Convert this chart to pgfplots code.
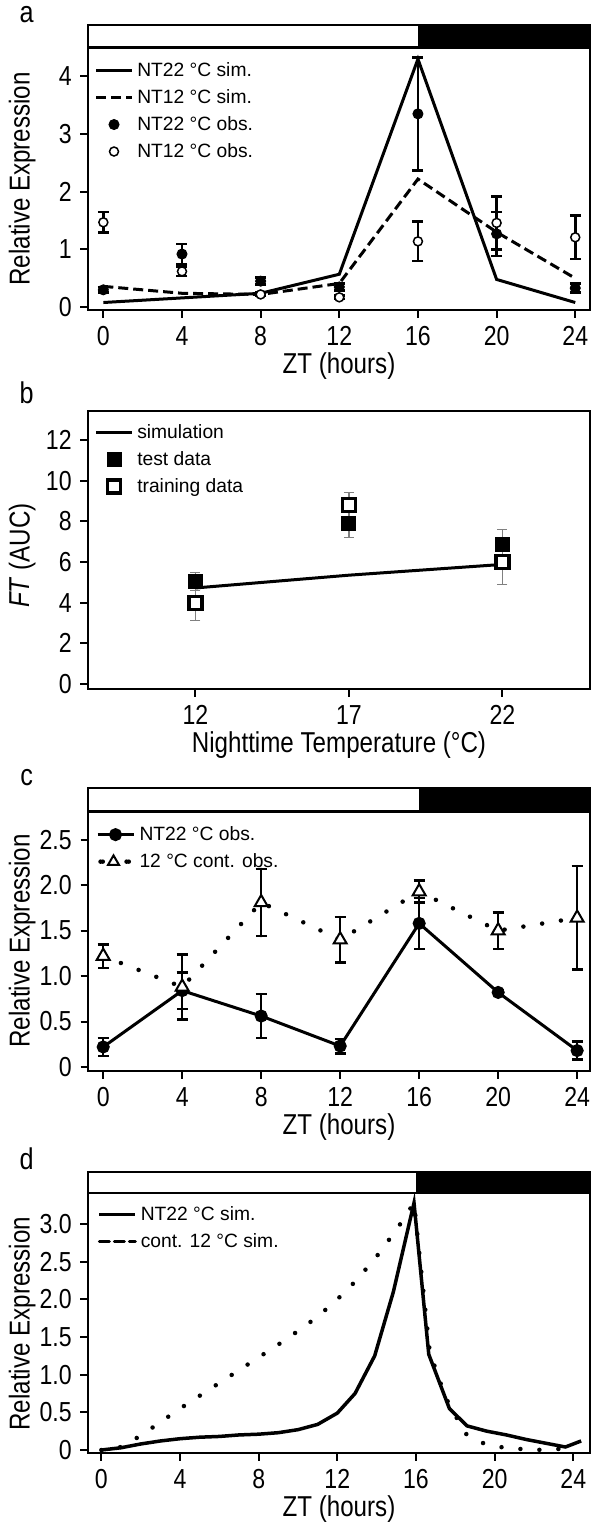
\documentclass[border=0pt]{standalone}
\usepackage{fontspec}
\setmainfont{Liberation Sans}
\newfontfamily\narrow{Liberation Sans}[FakeStretch=0.84]
\usepackage{pgfplots}
\pgfplotsset{compat=1.18}

\tikzset{
  dotline/.style={line width=1.8pt, line cap=round, dash pattern=on 0pt off 7.6pt},
  dashline/.style={line width=1.2pt, dash pattern=on 4pt off 2pt},
}
\pgfplotsset{
  panel/.style={
    scale only axis, width=200.8pt, anchor=north west,
    axis line style={line width=1pt},
    tick align=outside, xtick pos=bottom, ytick pos=left,
    major tick length=3pt,
    tick style={black, line width=0.8pt},
    /pgf/number format/assume math mode=true,
    tick label style={font=\narrow\fontsize{11}{13}\selectfont},
    label style={font=\narrow\fontsize{11.5}{13}\selectfont},
    xlabel style={yshift=4pt},
    legend cell align=left,
    legend style={draw=none, fill=none, inner sep=0pt,
      font=\fontsize{7.7}{9}\selectfont,
      nodes={inner sep=1pt, text height=6.8pt, text depth=2pt},
      /tikz/every odd column/.append style={column sep=0.5pt}},
    legend image code/.code={\draw[mark repeat=2,mark phase=2,##1]
      plot coordinates {(0pt,0pt) (7.2pt,0pt) (14.4pt,0pt)};},
  },
  ebar/.style={error bars/y dir=both, error bars/y explicit,
    error bars/error bar style={solid, line width=1pt},
    error bars/error mark options={solid, rotate=90, mark size=2.2pt, line width=1pt}},
}

\begin{document}
\begin{tikzpicture}
\useasboundingbox (0,0) rectangle (238.4pt,-608.8pt);

% ---------- a ----------
\begin{axis}[panel, name=axA, at={(35.2pt,-10pt)}, height=114pt,
  xmin=-0.78, xmax=24.75, ymin=-0.05, ymax=4.89,
  xtick={0,4,...,24}, ytick={0,1,2,3,4},
  xlabel={ZT (hours)}, ylabel={Relative Expression},
  ylabel style={at={(axis description cs:-0.131,0.46)}, anchor=center},
  legend style={at={(rel axis cs:0.012,0.921)}, anchor=north west, yshift=-3.6pt}]
\addplot[line width=1.2pt] coordinates {(0,0.08) (4,0.16) (8,0.24) (12,0.57) (16,4.3) (20,0.48) (24,0.08)};
\addlegendentry{NT22 °C sim.}
\addplot[dashline] coordinates {(0,0.36) (4,0.24) (8,0.22) (12,0.41) (16,2.22) (20,1.3) (24,0.5)};
\addlegendentry{NT12 °C sim.}
\addplot[only marks, mark=*, mark size=2pt, ebar] coordinates {
  (0,0.3) +- (0,0.05) (4,0.92) +- (0,0.17) (8,0.45) +- (0,0.06) (12,0.35) +- (0,0.06)
  (16,3.35) +- (0,0.98) (20,1.27) +- (0,0.38) (24,0.33) +- (0,0.08)};
\addlegendentry{NT22 °C obs.}
\addplot[only marks, mark=*, mark size=1.8pt, mark options={fill=white, line width=0.6pt}, ebar] coordinates {
  (0,1.47) +- (0,0.18) (4,0.62) +- (0,0.08) (8,0.22) +- (0,0.03) (12,0.17) +- (0,0.03)
  (16,1.14) +- (0,0.34) (20,1.46) +- (0,0.46) (24,1.21) +- (0,0.38)};
\addlegendentry{NT12 °C obs.}
\draw[line width=1pt] (rel axis cs:0,0.921) -- (rel axis cs:1,0.921);
\fill (axis cs:16,4.5) rectangle (rel axis cs:1,1);
\end{axis}
\node[font=\narrow\fontsize{12}{14}\selectfont, anchor=base] at ([xshift=-24.5pt,yshift=1pt]axA.north west) {a};

% ---------- b ----------
\begin{axis}[panel, name=axB, at={(35.2pt,-164.4pt)}, height=111.2pt,
  xmin=8.5, xmax=24.85, ymin=-0.26, ymax=13.44,
  xtick={12,17,22}, ytick={0,2,...,12},
  xlabel={Nighttime Temperature (°C)}, ylabel={\textit{FT} (AUC)},
  ylabel style={at={(axis description cs:-0.131,0.48)}, anchor=center},
  legend style={at={(rel axis cs:0.012,1)}, anchor=north west, yshift=-3pt},
  error bars/error bar style={gray, line width=0.5pt},
  error bars/error mark options={gray, rotate=90, mark size=2pt, line width=0.5pt}]
\addplot[line width=1.2pt] coordinates {(12,4.72) (17,5.35) (22,5.88)};
\addlegendentry{simulation}
\addplot[only marks, mark=square*, mark size=2.8pt, error bars/y dir=both, error bars/y explicit] coordinates {
  (12,5.05) +- (0,0.45) (17,7.9) +- (0,0.7) (22,6.85) +- (0,0.75)};
\addlegendentry{test data}
\addplot[only marks, mark=square*, mark size=2.6pt, mark options={fill=white, line width=1.3pt},
  error bars/y dir=both, error bars/y explicit] coordinates {
  (12,3.98) +- (0,0.86) (17,8.8) +- (0,0.62) (22,6.0) +- (0,1.12)};
\addlegendentry{training data}
\end{axis}
\node[font=\narrow\fontsize{12}{14}\selectfont, anchor=base] at ([xshift=-24.5pt,yshift=3pt]axB.north west) {b};

% ---------- c ----------
\begin{axis}[panel, name=axC, at={(35.2pt,-315.2pt)}, height=113.2pt,
  xmin=-0.77, xmax=24.65, ymin=-0.045, ymax=3.07,
  xtick={0,4,...,24}, ytick={0,0.5,1,1.5,2,2.5},
  yticklabels={0,0.5,1.0,1.5,2.0,2.5},
  xlabel={ZT (hours)}, ylabel={Relative Expression},
  ylabel style={at={(axis description cs:-0.131,0.46)}, anchor=center},
  legend style={at={(rel axis cs:0.015,0.9165)}, anchor=north west, yshift=-3.6pt}]
\addplot[line width=1.2pt, mark=*, mark size=2pt, ebar] coordinates {
  (0,0.22) +- (0,0.1) (4,0.84) +- (0,0.2) (8,0.56) +- (0,0.24) (12,0.23) +- (0,0.08)
  (16,1.58) +- (0,0.28) (20,0.82) +- (0,0.02) (24,0.18) +- (0,0.1)};
\addlegendentry{NT22 °C obs.}
\addplot[dotline, mark=triangle*, mark size=3pt, mark options={solid, fill=white, line width=0.8pt}, ebar,
  legend image code/.code={
    \fill (1.2pt,0pt) circle (0.9pt); \fill (11.6pt,0pt) circle (0.9pt);
    \draw[solid, line width=0.8pt, fill=white] (6.4pt,2.5pt) -- (4.2pt,-1.3pt) -- (8.6pt,-1.3pt) -- cycle;
    \path (14.4pt,0pt);}]
  coordinates {
  (0,1.22) +- (0,0.13) (4,0.88) +- (0,0.36) (8,1.81) +- (0,0.37) (12,1.4) +- (0,0.25)
  (16,1.93) +- (0,0.12) (20,1.5) +- (0,0.2) (24,1.64) +- (0,0.57)};
\addlegendentry{12 °C cont. obs.}
\draw[line width=1pt] (rel axis cs:0,0.9165) -- (rel axis cs:1,0.9165);
\fill (axis cs:16,2.81) rectangle (rel axis cs:1,1);
\end{axis}
\node[font=\narrow\fontsize{12}{14}\selectfont, anchor=base] at ([xshift=-24.5pt,yshift=1pt]axC.north west) {c};

% ---------- d ----------
\begin{axis}[panel, name=axD, at={(35.2pt,-468.8pt)}, height=112.4pt,
  xmin=-0.68, xmax=24.85, ymin=-0.04, ymax=3.69,
  xtick={0,4,...,24}, ytick={0,0.5,1,1.5,2,2.5,3},
  yticklabels={0,0.5,1.0,1.5,2.0,2.5,3.0},
  xlabel={ZT (hours)}, ylabel={Relative Expression},
  ylabel style={at={(axis description cs:-0.131,0.46)}, anchor=center},
  legend style={at={(rel axis cs:0.018,0.925)}, anchor=north west, yshift=-3pt}]
\addplot[line width=1.4pt] coordinates {
  (0,0) (1,0.03) (2,0.08) (3,0.12) (4,0.15) (5,0.17) (6,0.18) (7,0.2) (8,0.21) (9,0.23)
  (10,0.27) (11,0.34) (12,0.49) (12.9,0.75) (13.9,1.25) (14.85,2.1) (15.9,3.28) (16.65,1.27)
  (17.7,0.55) (18.6,0.32) (19.6,0.25) (20.6,0.2) (21.6,0.14) (22.6,0.09) (23.6,0.04) (24.4,0.12)};
\addlegendentry{NT22 °C sim.}
\addplot[dotline, legend image code/.code={\draw[line width=1.2pt, dash pattern=on 4pt off 2pt] (0pt,0pt) -- (14.4pt,0pt);}] coordinates {
  (0,0) (1,0.04) (2,0.19) (3,0.37) (4,0.55) (5,0.72) (6,0.89) (7,1.06) (8,1.23) (9,1.4)
  (10,1.58) (11,1.77) (12,2.0) (13,2.26) (14,2.57) (15,2.92) (15.9,3.28) (16.7,1.3)
  (17.5,0.7) (18.5,0.22) (19.5,0.08) (20.5,0.03) (21.5,0.01) (22.5,0.0) (23.6,0.02)};
\addlegendentry{cont. 12 °C sim.}
\draw[line width=1pt] (rel axis cs:0,0.925) -- (rel axis cs:1,0.925);
\fill (axis cs:16,3.41) rectangle (rel axis cs:1,1);
\end{axis}
\node[font=\narrow\fontsize{12}{14}\selectfont, anchor=base] at ([xshift=-24.5pt,yshift=1pt]axD.north west) {d};
\end{tikzpicture}
\end{document}
